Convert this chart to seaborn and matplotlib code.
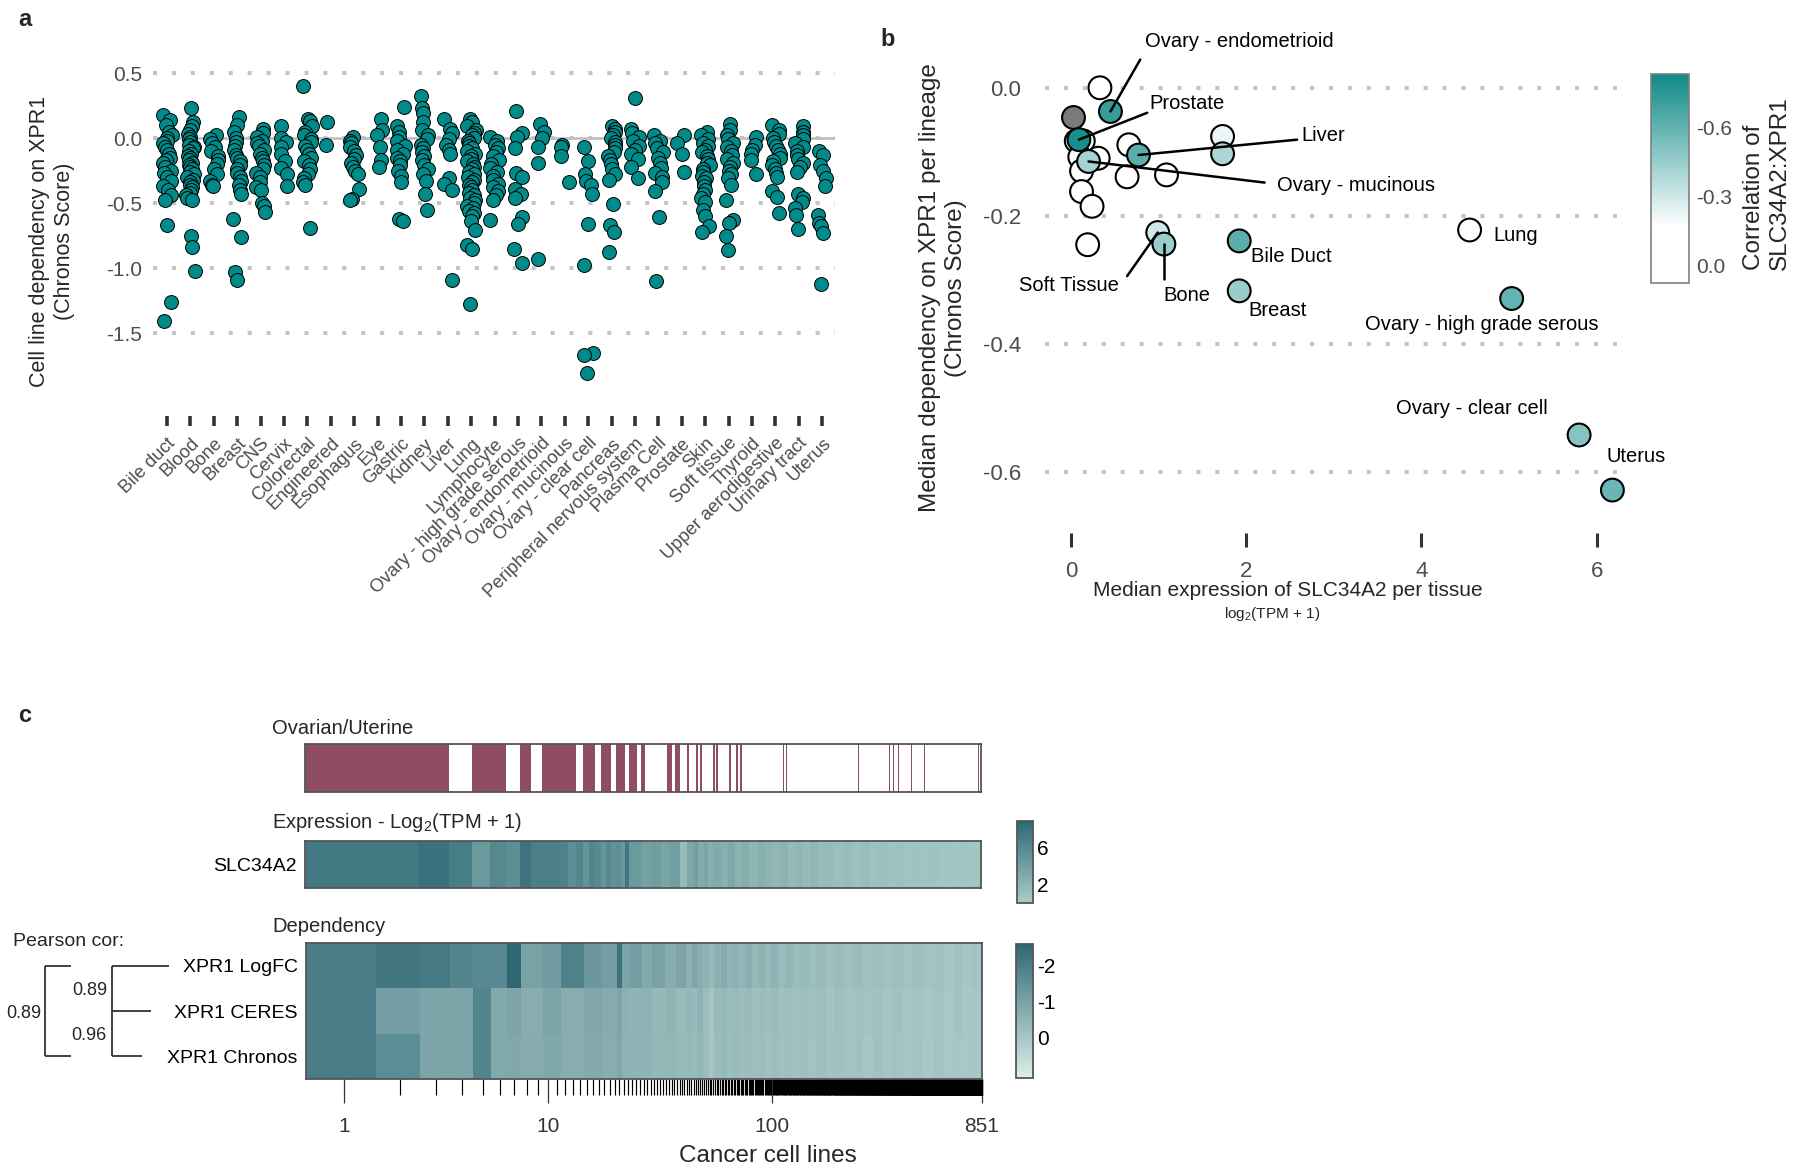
import numpy as np
import pandas as pd
import matplotlib
matplotlib.use("Agg")
import matplotlib.pyplot as plt
import matplotlib.colors as mcolors
import seaborn as sns

W, H = 1800, 1173

# ---------------- panel a : dependency per lineage (Chronos) ----------------
lineages = ["Bile duct", "Blood", "Bone", "Breast", "CNS", "Cervix", "Colorectal",
            "Engineered", "Esophagus", "Eye", "Gastric", "Kidney", "Liver", "Lung",
            "Lymphocyte", "Ovary - high grade serous", "Ovary - endometrioid",
            "Ovary - mucinous", "Ovary - clear cell", "Pancreas",
            "Peripheral nervous system", "Plasma Cell", "Prostate", "Skin",
            "Soft tissue", "Thyroid", "Upper aerodigestive", "Urinary tract", "Uterus"]

bile_duct = [0.18, 0.14, 0.10, 0.05, 0.02, 0.0, -0.02, -0.04, -0.07, -0.09, -0.12, -0.15, -0.17,
             -0.19, -0.22, -0.25, -0.27, -0.30, -0.33, -0.37, -0.40, -0.44, -0.48, -0.67, -1.26, -1.41]
blood = [0.23, 0.12, 0.09, 0.06, 0.03, 0.01, -0.01, -0.03, -0.05, -0.07, -0.08, -0.10, -0.12, -0.14,
         -0.15, -0.17, -0.19, -0.21, -0.22, -0.24, -0.26, -0.28, -0.30, -0.32, -0.34, -0.36, -0.38,
         -0.40, -0.42, -0.44, -0.46, -0.48, -0.75, -0.84, -1.02]
bone = [0.02, -0.01, -0.04, -0.07, -0.10, -0.14, -0.17, -0.20, -0.24, -0.28, -0.33, -0.36, -0.37]
breast = [0.16, 0.10, 0.05, 0.0, -0.03, -0.06, -0.09, -0.13, -0.15, -0.18, -0.21, -0.24, -0.27,
          -0.30, -0.33, -0.36, -0.40, -0.43, -0.62, -0.76, -1.03, -1.09]
cns = [0.07, 0.04, 0.01, -0.02, -0.04, -0.06, -0.09, -0.12, -0.15, -0.18, -0.21, -0.24, -0.27,
       -0.30, -0.34, -0.38, -0.40, -0.50, -0.52, -0.57]
cervix = [0.09, 0.0, -0.03, -0.07, -0.12, -0.18, -0.23, -0.28, -0.37]
colorectal = [0.40, 0.15, 0.13, 0.09, 0.05, 0.02, -0.01, -0.03, -0.06, -0.09, -0.12, -0.15, -0.18,
              -0.21, -0.24, -0.28, -0.31, -0.34, -0.36, -0.69]
engineered = [0.12, -0.05]
esophagus = [0.01, -0.02, -0.04, -0.07, -0.10, -0.13, -0.16, -0.19, -0.22, -0.25, -0.28, -0.39,
             -0.47, -0.48]
eye = [0.15, 0.06, 0.02, -0.07, -0.17, -0.22]
gastric = [0.24, 0.09, 0.05, 0.01, -0.02, -0.06, -0.09, -0.12, -0.15, -0.18, -0.21, -0.25, -0.29,
           -0.34, -0.62, -0.64]
kidney = [0.32, 0.23, 0.19, 0.12, 0.06, 0.02, -0.01, -0.05, -0.08, -0.11, -0.14, -0.17, -0.21,
          -0.24, -0.28, -0.33, -0.43, -0.55]
liver = [0.15, 0.07, 0.04, -0.01, -0.05, -0.09, -0.12, -0.31, -0.35, -0.40, -1.09]
lung = [0.15, 0.12, 0.09, 0.06, 0.04, 0.02, 0.0, -0.02, -0.04, -0.06, -0.08, -0.10, -0.12, -0.14,
        -0.16, -0.18, -0.20, -0.22, -0.24, -0.26, -0.28, -0.30, -0.32, -0.34, -0.36, -0.38, -0.40,
        -0.42, -0.44, -0.46, -0.48, -0.50, -0.52, -0.54, -0.56, -0.58, -0.60, -0.64, -0.71, -0.82,
        -0.85, -1.28]
lymphocyte = [0.01, -0.02, -0.05, -0.08, -0.11, -0.14, -0.17, -0.20, -0.23, -0.26, -0.29, -0.32,
              -0.35, -0.38, -0.41, -0.44, -0.48, -0.63]
ovary_hgs = [0.21, 0.04, 0.01, -0.08, -0.27, -0.30, -0.39, -0.43, -0.46, -0.61, -0.66, -0.85, -0.96]
ovary_endometrioid = [0.11, 0.05, 0.0, -0.07, -0.19, -0.93]
ovary_mucinous = [-0.05, -0.07, -0.14, -0.34]
ovary_clear_cell = [-0.07, -0.18, -0.28, -0.33, -0.36, -0.43, -0.66, -0.98, -1.65, -1.67, -1.81]
pancreas = [0.09, 0.07, 0.05, 0.02, 0.0, -0.03, -0.05, -0.08, -0.11, -0.14, -0.17, -0.20, -0.24,
            -0.28, -0.32, -0.51, -0.67, -0.72, -0.88]
pns = [0.31, 0.07, 0.04, 0.01, -0.02, -0.06, -0.09, -0.12, -0.16, -0.22, -0.31]
plasma_cell = [0.02, -0.02, -0.04, -0.08, -0.11, -0.15, -0.19, -0.23, -0.27, -0.30, -0.34, -0.41,
               -0.61, -1.10]
prostate = [0.02, -0.04, -0.12, -0.26]
skin = [0.05, 0.02, -0.01, -0.04, -0.06, -0.09, -0.11, -0.14, -0.16, -0.19, -0.21, -0.24, -0.26,
        -0.29, -0.31, -0.34, -0.37, -0.40, -0.43, -0.46, -0.49, -0.55, -0.60, -0.68, -0.72]
soft_tissue = [0.11, 0.06, 0.02, -0.01, -0.04, -0.07, -0.10, -0.13, -0.16, -0.19, -0.22, -0.25,
               -0.28, -0.31, -0.36, -0.48, -0.63, -0.65, -0.75, -0.86]
thyroid = [0.01, -0.05, -0.09, -0.12, -0.17, -0.28]
upper_aero = [0.10, 0.06, 0.03, 0.0, -0.03, -0.06, -0.09, -0.12, -0.15, -0.18, -0.21, -0.24, -0.27,
              -0.30, -0.41, -0.45, -0.58]
urinary_tract = [0.09, 0.05, 0.02, -0.01, -0.04, -0.07, -0.10, -0.13, -0.16, -0.19, -0.22, -0.26,
                 -0.43, -0.46, -0.49, -0.54, -0.59, -0.70]
uterus = [-0.10, -0.13, -0.21, -0.25, -0.31, -0.37, -0.59, -0.65, -0.68, -0.73, -1.12]

lineage_scores = [bile_duct, blood, bone, breast, cns, cervix, colorectal, engineered, esophagus,
                  eye, gastric, kidney, liver, lung, lymphocyte, ovary_hgs, ovary_endometrioid,
                  ovary_mucinous, ovary_clear_cell, pancreas, pns, plasma_cell, prostate, skin,
                  soft_tissue, thyroid, upper_aero, urinary_tract, uterus]

# ---------------- panel b : median expression vs median dependency ----------------
b_expr = [0.33, 0.06, 0.14, 0.66, 1.73, 1.73, 0.31, 0.10, 0.12, 0.64, 1.09, 0.12, 0.24, 0.19,
          4.55, 0.77, 0.20, 0.45, 0.09, 0.99, 1.06, 1.92, 1.92, 5.03, 5.80, 6.18]
b_dep = [0.000, -0.083, -0.083, -0.089, -0.076, -0.103, -0.110, -0.108, -0.130, -0.139, -0.136,
         -0.162, -0.185, -0.245, -0.222, -0.105, -0.115, -0.037, -0.081, -0.226, -0.244, -0.239,
         -0.317, -0.329, -0.542, -0.628]
b_cor = [-0.04, -0.02, -0.08, 0.0, -0.22, -0.40, 0.0, -0.02, 0.0, 0.0, 0.0, 0.0, -0.18, 0.0,
         -0.17, -0.62, -0.42, -0.72, -0.80, -0.30, -0.45, -0.62, -0.45, -0.60, -0.50, -0.58]
b_label = ["", "", "", "", "", "", "", "", "", "", "", "", "", "",
           "Lung", "Liver", "Ovary - mucinous", "Ovary - endometrioid", "Prostate", "Soft Tissue",
           "Bone", "Bile Duct", "Breast", "Ovary - high grade serous", "Ovary - clear cell", "Uterus"]
# lineage without a correlation value (drawn grey)
b_na_expr = [0.02]
b_na_dep = [-0.045]

# label placement: text x, text y, alignment, start of leader line (or None)
label_layout = {
    "Ovary - endometrioid": (1.92, 0.073, "center", (0.79, 0.044)),
    "Prostate": (0.89, -0.025, "left", (0.87, -0.039)),
    "Liver": (2.63, -0.075, "left", (2.58, -0.081)),
    "Ovary - mucinous": (2.35, -0.152, "left", (2.21, -0.148)),
    "Soft Tissue": (-0.02, -0.309, "center", (0.64, -0.294)),
    "Bone": (1.32, -0.325, "center", (1.06, -0.298)),
    "Bile Duct": (2.05, -0.264, "left", None),
    "Breast": (2.02, -0.347, "left", None),
    "Lung": (4.82, -0.230, "left", None),
    "Ovary - high grade serous": (4.69, -0.370, "center", None),
    "Ovary - clear cell": (4.58, -0.500, "center", None),
    "Uterus": (6.45, -0.575, "center", None),
}

# ---------------- panel c : ranked cell lines ----------------
n_cell_lines = 851
ovarian_ranks = [1, 2, 3, 5, 6, 8, 10, 11, 12, 13, 15, 16, 18, 19, 21, 22, 24, 25, 27, 35, 36,
                 38, 39, 43, 47, 49, 56, 58, 66, 71, 74, 114, 118, 142, 181, 238, 245, 290, 336,
                 350, 368, 420, 479, 524, 574, 628, 688, 724, 769, 800, 830]

expr_starts = [1, 3, 4, 5, 6, 7, 8, 9, 12, 13, 14, 15, 16, 17, 18, 19, 20, 21, 22, 23, 24, 27, 30,
               33, 36, 40, 43, 46, 48, 51, 53, 56, 61, 65, 70, 75, 81, 88, 95, 103, 111, 120, 130,
               140, 150, 162, 175, 190, 210, 230, 250, 275, 300, 330, 360, 395, 430, 465, 501,
               550, 600, 650, 700, 740, 780, 820]
expr_values = [7.3, 8.0, 7.0, 4.5, 6.0, 5.5, 7.8, 6.8, 6.5, 5.5, 6.2, 5.0, 6.3, 5.8, 4.8, 6.0, 5.2,
               5.5, 4.6, 7.5, 4.5, 3.8, 4.2, 3.5, 4.0, 1.5, 3.2, 4.0, 2.8, 3.4, 2.6, 3.0, 2.5,
               3.1, 2.3, 2.7, 2.0, 2.6, 2.2, 1.8, 2.3, 1.6, 2.0, 1.5, 1.9, 1.3, 1.6, 1.2, 1.4,
               1.0, 1.3, 0.9, 1.1, 0.8, 1.0, 0.7, 0.9, 0.7, 0.8, 0.6, 0.75, 0.6, 0.7, 0.55,
               0.65, 0.55]

dep_starts = [1, 2, 3, 4, 5, 6, 7, 8, 10, 12, 15, 18, 21, 22, 24, 27, 30, 34, 38,
              42, 45, 47, 50, 53, 56, 60, 64, 68, 72, 77, 82, 88, 94, 100, 108, 115, 125, 135,
              147, 160, 175, 190, 210, 230, 255, 280, 310, 340, 380, 420, 470, 520, 580, 640,
              700, 760, 810]
dep_logfc = [-2.0, -2.15, -2.1, -1.8, -1.7, -1.7, -2.6, -1.0, -1.2, -1.9, -1.3, -1.1, -2.3, -0.9,
             -1.1, -0.8, -1.0, -0.7, -0.9,
             -0.6, -0.9, -0.7, -0.5, -0.35, -0.6, -0.75, -0.5, -0.6, -0.45, -0.65, -0.4, -0.55,
             -0.35, -0.5, -0.3, -0.45, -0.3, -0.4, -0.25, -0.35, -0.2, -0.3, -0.2, -0.3, -0.15,
             -0.25, -0.15, -0.2, -0.1, -0.2, -0.1, -0.15, -0.05, -0.15, -0.05, -0.1, -0.05]
dep_ceres = [-2.0, -1.1, -0.9, -0.9, -1.8, -0.8, -0.9, -0.7, -0.9, -0.7, -0.85, -0.75, -0.9, -0.6,
             -0.5, -0.55, -0.4, -0.5, -0.35,
             -0.45, -0.35, -0.5, -0.3, -0.05, -0.35, -0.4, -0.3, -0.35, -0.25, -0.35, -0.2, -0.3,
             -0.2, -0.3, -0.15, -0.25, -0.15, -0.25, -0.15, -0.2, -0.1, -0.2, -0.1, -0.15, -0.1,
             -0.15, -0.05, -0.15, -0.05, -0.1, -0.05, -0.1, 0.0, -0.1, 0.0, -0.05, 0.0]
dep_chronos = [-2.0, -1.6, -0.9, -0.9, -1.8, -0.8, -0.85, -0.75, -0.85, -0.7, -0.8, -0.7, -0.85,
               -0.55, -0.5, -0.5, -0.4, -0.45, -0.35,
               -0.4, -0.35, -0.45, -0.3, -0.05, -0.3, -0.4, -0.25, -0.35, -0.25, -0.3, -0.2,
               -0.3, -0.15, -0.25, -0.15, -0.25, -0.15, -0.2, -0.1, -0.2, -0.1, -0.15, -0.1,
               -0.15, -0.05, -0.15, -0.05, -0.1, -0.05, -0.1, 0.0, -0.1, 0.0, -0.05, 0.0, -0.05,
               0.0]
dep_rows = ["XPR1 LogFC", "XPR1 CERES", "XPR1 Chronos"]
pearson_logfc_ceres = 0.89
pearson_ceres_chronos = 0.96
pearson_logfc_chronos = 0.89
rank_ticks = [1, 10, 100, 851]


def px_axes(fig, x0, y0, x1, y1):
    return fig.add_axes([x0 / W, 1 - y1 / H, (x1 - x0) / W, (y1 - y0) / H])


def ftext(fig, x, y, s, **kw):
    return fig.text(x / W, 1 - y / H, s, **kw)


sns.set_theme(style="white")
plt.rcParams["font.family"] = ["Liberation Sans", "DejaVu Sans"]
plt.rcParams["mathtext.fontset"] = "custom"
plt.rcParams["mathtext.rm"] = "Liberation Sans"

GREY_TXT = "#4d4d4d"
DOT = (0, (1, 3.7))
fig = plt.figure(figsize=(W / 100, H / 100), dpi=100)

# ======== a ========
df_a = pd.DataFrame([(n, v) for n, vals in zip(lineages, lineage_scores) for v in vals],
                    columns=["lineage", "score"])
ax_a = px_axes(fig, 153, 50, 835, 416)
np.random.seed(7)
sns.stripplot(data=df_a, x="lineage", y="score", order=lineages, jitter=0.2, size=10,
              color="#008b8b", edgecolor="black", linewidth=0.7, ax=ax_a, zorder=3)
ax_a.set_xlim(-0.6, 28.55)
ax_a.set_ylim(-2.138, 0.677)
a_yticks = [0.5, 0.0, -0.5, -1.0, -1.5]
ax_a.set_yticks(a_yticks)
ax_a.set_yticklabels([f"{v:.1f}" for v in a_yticks])
ax_a.grid(axis="y", color="#c4c4c4", lw=2.9, ls=DOT)
ax_a.set_axisbelow(True)
ax_a.axhline(0, color="#c0c0c0", lw=2.0, zorder=1)
ax_a.set_xticks(range(len(lineages)))
ax_a.set_xticklabels(lineages, rotation=45, ha="right", rotation_mode="anchor")
ax_a.tick_params(axis="y", length=0, pad=8, labelsize=15, labelcolor=GREY_TXT)
ax_a.tick_params(axis="x", bottom=True, direction="out", length=7.5, width=2.6, color="#333333",
                 pad=6, labelsize=13.2, labelcolor=GREY_TXT)
ax_a.set_xlabel("")
ax_a.set_ylabel("")
for s in ax_a.spines.values():
    s.set_visible(False)
ftext(fig, 52, 241, "Cell line dependency on XPR1\n(Chronos Score)", rotation=90,
      ha="center", va="center", multialignment="center", fontsize=15.5)

# ======== b ========
cmap_b = mcolors.LinearSegmentedColormap.from_list(
    "cor_teal", [(0.0, "#0e8a87"), (0.73, "#ffffff"), (1.0, "#ffffff")])
norm_b = mcolors.Normalize(vmin=-0.83, vmax=0.074)
df_b = pd.DataFrame({"expr": b_expr, "dep": b_dep, "cor": b_cor, "label": b_label})
df_na = pd.DataFrame({"expr": b_na_expr, "dep": b_na_dep})

ax_b = px_axes(fig, 1045, 25, 1630, 533)
sns.scatterplot(data=df_na, x="expr", y="dep", color="#7a7a7a", s=270, edgecolor="black",
                linewidth=1.5, legend=False, ax=ax_b, zorder=3)
sns.scatterplot(data=df_b, x="expr", y="dep", hue="cor", palette=cmap_b, hue_norm=norm_b, s=270,
                edgecolor="black", linewidth=1.5, legend=False, ax=ax_b, zorder=3)
ax_b.set_xlim(-0.297, 6.381)
ax_b.set_ylim(-0.695, 0.098)
ax_b.set_xticks([0, 2, 4, 6])
b_yticks = [0.0, -0.2, -0.4, -0.6]
ax_b.set_yticks(b_yticks)
ax_b.set_yticklabels([f"{v:.1f}" for v in b_yticks])
ax_b.grid(axis="y", color="#c4c4c4", lw=2.9, ls=DOT)
ax_b.set_axisbelow(True)
ax_b.tick_params(axis="y", length=0, pad=17, labelsize=16, labelcolor=GREY_TXT)
ax_b.tick_params(axis="x", bottom=True, direction="out", length=10, width=2.2, color="#333333",
                 pad=10, labelsize=16, labelcolor=GREY_TXT)
ax_b.set_xlabel("")
ax_b.set_ylabel("")
for s in ax_b.spines.values():
    s.set_visible(False)

for _, row in df_b[df_b["label"] != ""].iterrows():
    tx, ty, ha, lead = label_layout[row["label"]]
    if lead is not None:
        ax_b.plot([lead[0], row["expr"]], [lead[1], row["dep"]], color="black", lw=1.8, zorder=4)
    ax_b.text(tx, ty, row["label"], ha=ha, va="center", fontsize=14.5, color="black", zorder=5)

ftext(fig, 943, 288, "Median dependency on XPR1 per lineage\n(Chronos Score)", rotation=90,
      ha="center", va="center", multialignment="center", fontsize=17.5)
ftext(fig, 1288, 590, "Median expression of SLC34A2 per tissue", ha="center", va="center",
      fontsize=15)
ftext(fig, 1272, 614, "log$_2$(TPM + 1)", ha="center", va="center", fontsize=11)

cax_b = px_axes(fig, 1651, 74, 1689, 283)
cb_b = fig.colorbar(plt.cm.ScalarMappable(norm=norm_b, cmap=cmap_b), cax=cax_b)
cax_b.invert_yaxis()
cb_b.set_ticks([-0.6, -0.3, 0.0])
cb_b.set_ticklabels(["-0.6", "-0.3", "0.0"])
cb_b.outline.set_edgecolor("#808080")
cb_b.outline.set_linewidth(1.2)
cax_b.tick_params(direction="in", length=7, width=2.2, color="#222222", labelsize=15,
                  labelcolor=GREY_TXT, pad=5)
ftext(fig, 1767, 270, "Correlation of\nSLC34A2:XPR1", rotation=90, ha="center", va="bottom",
      multialignment="left", fontsize=17.5)

# ======== c ========
def fwd(x):
    return np.log10(np.maximum(np.asarray(x, dtype=float) + 0.3, 1e-6))


def inv(y):
    return 10 ** np.asarray(y, dtype=float) - 0.3


ranks = np.arange(1, n_cell_lines + 1)
cell_edges = np.append(ranks - 0.5, n_cell_lines + 0.5)
XLIM_C = (0.58, n_cell_lines + 0.5)

ovarian_flag = np.isin(ranks, ovarian_ranks).astype(float)
ax_ov = px_axes(fig, 305, 744, 981, 792)
ax_ov.set_xscale("function", functions=(fwd, inv))
ax_ov.pcolormesh(cell_edges, [0, 1], ovarian_flag[None, :],
                 cmap=mcolors.ListedColormap(["#ffffff", "#8f4d64"]), vmin=0, vmax=1)

expr_edges = np.append(np.array(expr_starts) - 0.5, n_cell_lines + 0.5)
cmap_expr = mcolors.LinearSegmentedColormap.from_list("expr", ["#aacdc7", "#2e6875"])
norm_expr = mcolors.Normalize(vmin=0, vmax=8.8)
ax_ex = px_axes(fig, 305, 841, 981, 888)
ax_ex.set_xscale("function", functions=(fwd, inv))
ax_ex.pcolormesh(expr_edges, [0, 1], np.array(expr_values)[None, :], cmap=cmap_expr,
                 norm=norm_expr)
ax_ex.set_yticks([0.5])
ax_ex.set_yticklabels(["SLC34A2"])

dep_edges = np.append(np.array(dep_starts) - 0.5, n_cell_lines + 0.5)
cmap_dep = mcolors.LinearSegmentedColormap.from_list("dep", ["#2e6875", "#dcefe8"])
norm_dep = mcolors.Normalize(vmin=-2.58, vmax=1.1)
ax_dep = px_axes(fig, 306, 943, 982, 1079)
ax_dep.set_xscale("function", functions=(fwd, inv))
ax_dep.pcolormesh(dep_edges, [0, 1, 2, 3], np.array([dep_logfc, dep_ceres, dep_chronos]),
                  cmap=cmap_dep, norm=norm_dep)
ax_dep.set_ylim(3, 0)
ax_dep.set_yticks([0.5, 1.5, 2.5])
ax_dep.set_yticklabels(dep_rows)

for ax in (ax_ov, ax_ex, ax_dep):
    ax.set_xlim(*XLIM_C)
    for s in ax.spines.values():
        s.set_visible(True)
        s.set_edgecolor("#555555")
        s.set_linewidth(1.3)
    ax.tick_params(axis="y", length=0, pad=6, labelsize=14, labelcolor="black")
ax_ov.set_xticks([])
ax_ov.set_yticks([])
ax_ex.set_xticks([])
ax_ex.set_xticks([], minor=True)
ax_ov.set_xticks([], minor=True)

# rug of cell lines under the dependency map
ax_dep.set_xticks(rank_ticks)
ax_dep.set_xticklabels([str(r) for r in rank_ticks])
ax_dep.set_xticks(ranks, minor=True)
ax_dep.tick_params(axis="x", which="major", bottom=True, length=17, width=0.9, color="#333333",
                   pad=10, labelsize=15, labelcolor="#333333")
ax_dep.tick_params(axis="x", which="minor", bottom=True, length=11.5, width=0.85, color="black")

ftext(fig, 272, 729, "Ovarian/Uterine", ha="left", va="center", fontsize=14.5)
ftext(fig, 272, 822, "Expression - Log$_2$(TPM + 1)", ha="left", va="center", fontsize=14.5)
ftext(fig, 272, 927, "Dependency", ha="left", va="center", fontsize=14.5)
ftext(fig, 13, 942, "Pearson cor:", ha="left", va="center", fontsize=14)
ftext(fig, 768, 1156, "Cancer cell lines", ha="center", va="center", fontsize=17.5)

# bracket diagram of the pairwise correlations
ax_den = px_axes(fig, 0, 943, 175, 1079)
ax_den.set_xlim(0, 175)
ax_den.set_ylim(3, 0)
ax_den.axis("off")
den_kw = dict(color="#333333", lw=1.3, solid_capstyle="butt")
ax_den.plot([112, 112], [0.5, 2.5], **den_kw)
ax_den.plot([112, 169], [0.5, 0.5], **den_kw)
ax_den.plot([112, 151], [1.5, 1.5], **den_kw)
ax_den.plot([112, 142], [2.5, 2.5], **den_kw)
ax_den.plot([45, 45], [0.5, 2.5], **den_kw)
ax_den.plot([45, 71], [0.5, 0.5], **den_kw)
ax_den.plot([45, 71], [2.5, 2.5], **den_kw)
ax_den.text(107, 1.05, f"{pearson_logfc_ceres:.2f}", ha="right", va="center", fontsize=13)
ax_den.text(107, 2.03, f"{pearson_ceres_chronos:.2f}", ha="right", va="center", fontsize=13)
ax_den.text(41, 1.55, f"{pearson_logfc_chronos:.2f}", ha="right", va="center", fontsize=13)

# colour keys of panel c
cax_ex = px_axes(fig, 1017, 821, 1033, 903)
cb_ex = fig.colorbar(plt.cm.ScalarMappable(norm=norm_expr, cmap=cmap_expr), cax=cax_ex)
cb_ex.set_ticks([2, 4, 6, 8])
cb_ex.set_ticklabels(["2", "", "6", ""])
cax_dep = px_axes(fig, 1016, 944, 1033, 1078)
cb_dep = fig.colorbar(plt.cm.ScalarMappable(norm=norm_dep, cmap=cmap_dep), cax=cax_dep)
cax_dep.invert_yaxis()
cb_dep.set_ticks([-2, -1, 0])
cb_dep.set_ticklabels(["-2", "-1", "0"])
for cb, cax in ((cb_ex, cax_ex), (cb_dep, cax_dep)):
    cb.outline.set_edgecolor("#555555")
    cb.outline.set_linewidth(1.3)
    cax.tick_params(direction="in", length=5.5, width=1.1, color="#222222", labelsize=15,
                    labelcolor="black", pad=3)

# panel letters
ftext(fig, 18, 20, "a", fontsize=17, weight="bold", va="center")
ftext(fig, 880, 40, "b", fontsize=17, weight="bold", va="center")
ftext(fig, 18, 716, "c", fontsize=17, weight="bold", va="center")

fig.savefig("out.png", dpi=100)
